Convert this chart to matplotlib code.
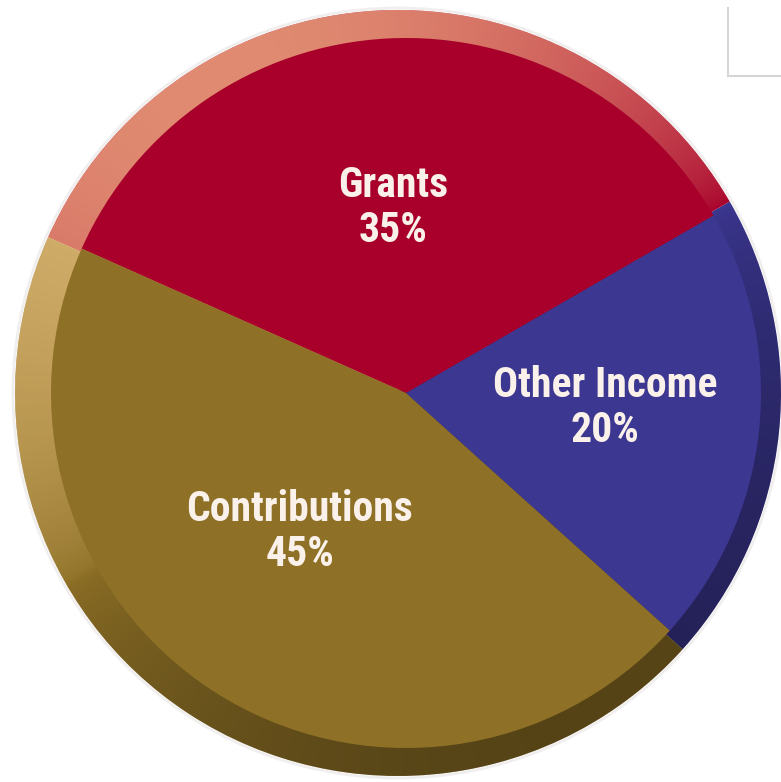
import numpy as np
import matplotlib
matplotlib.use("Agg")
import matplotlib.pyplot as plt
from matplotlib.patches import Circle

# =========================
# Data
# =========================
labels = ["Other Income", "Grants", "Contributions"]
values = [20, 35, 45]
face_colors = ["#3C3791", "#A8002B", "#8E7026"]
label_pos = [(605, 408), (393, 208), (300, 532)]   # pixel positions (x, y from top)

W, H = 781, 782
start = -42

fig = plt.figure(figsize=(W / 100, H / 100), dpi=100)
ax = fig.add_axes([0, 0, 1, 1])

# outer disc (rim of the bevel)
oc = (398, H - 393)
orad = 383
ax.pie(values, colors=face_colors, startangle=start, counterclock=True,
       center=oc, radius=orad, frame=True,
       wedgeprops=dict(linewidth=0))

# light from upper left, dark bottom right, over the rim
xs = np.linspace(oc[0] - orad, oc[0] + orad, 400)
ys = np.linspace(oc[1] - orad, oc[1] + orad, 400)
X, Y = np.meshgrid(xs, ys)
th = np.arctan2(Y - oc[1], X - oc[0])
g = np.cos(th - np.deg2rad(120))
g = np.sign(g) * np.abs(g) ** 0.6
rgba = np.zeros(X.shape + (4,))
light = g > 0
rgba[light, 0] = 1.0
rgba[light, 1] = 0.85
rgba[light, 2] = 0.6
rgba[light, 3] = 0.65 * g[light]
rgba[~light, 3] = 0.4 * (-g[~light])
im = ax.imshow(rgba, extent=(xs[0], xs[-1], ys[0], ys[-1]), origin="lower",
               interpolation="bilinear", zorder=3)
clip = Circle(oc, orad, transform=ax.transData)
im.set_clip_path(clip)

# soft edge around the disc
ax.add_patch(Circle(oc, orad + 2, fill=False, ec="#D8D0D0", lw=2,
                    alpha=0.35, zorder=2))

# top face
ic = (406, H - 393)
irad = 355
wedges, _ = ax.pie(values, colors=face_colors, startangle=start,
                   counterclock=True, center=ic, radius=irad, frame=True,
                   wedgeprops=dict(linewidth=0))
for w in wedges:
    w.set_zorder(4)

ax.set_xlim(0, W)
ax.set_ylim(0, H)
ax.set_aspect("equal")
ax.axis("off")

fam = ["Roboto Condensed", "Barlow Semi Condensed", "DejaVu Sans"]
for lab, v, (x, y) in zip(labels, values, label_pos):
    ax.text(x, H - y, f"{lab}\n{v}%", ha="center", va="center",
            fontsize=30, color="#FAF1EA", linespacing=1.15, zorder=6,
            family=fam, fontstretch="condensed", fontweight="bold")

# thin gray frame corner at top right
ax.plot([728, 728, W], [H - 8, H - 76, H - 76], color="#D6D6D6", lw=1.5,
        zorder=1, solid_joinstyle="miter")

fig.savefig("out.png", dpi=100)
